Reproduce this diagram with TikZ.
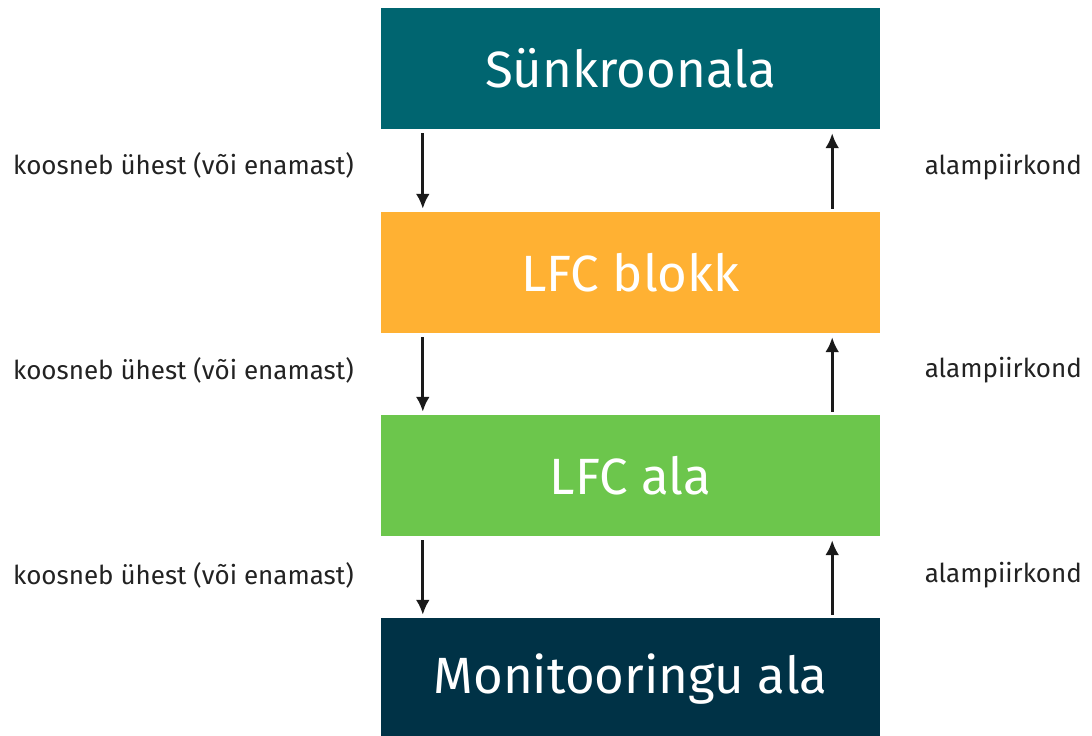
\documentclass[tikz,border=0pt]{standalone}
\usepackage{fontspec}
\setmainfont{Fira Sans}
\usetikzlibrary{arrows.meta}
\definecolor{cteal}{HTML}{006570}
\definecolor{corange}{HTML}{FFB133}
\definecolor{cgreen}{HTML}{6CC64C}
\definecolor{cnavy}{HTML}{003246}
\definecolor{clabel}{HTML}{222222}
\definecolor{carrow}{HTML}{1A1A1A}
\tikzset{
  blockbox/.style={rectangle, minimum width=499pt, minimum height=121pt, inner sep=0pt, text=white, font=\fontsize{51}{60}\selectfont},
  sidelabel/.style={inner sep=0pt, text=clabel, font=\fontsize{26}{30}\selectfont},
  arr/.style={draw=carrow, line width=3pt, -{Latex[length=15pt,width=14pt]}}
}
\begin{document}
\begin{tikzpicture}[x=1pt,y=-1pt]
\useasboundingbox (0,0) rectangle (1092,736);
\node[blockbox, fill=cteal] (b1) at (630.5,68.5) {Sünkroonala};
\node[blockbox, fill=corange] (b2) at (630.5,272.5) {LFC blokk};
\node[blockbox, fill=cgreen] (b3) at (630.5,475.5) {LFC ala};
\node[blockbox, fill=cnavy, minimum height=122pt] (b4) at (630.5,679) {Monitooringu ala};
\foreach \u/\l in {b1/b2, b2/b3, b3/b4}{
  \draw[arr] ([xshift=42pt,yshift=-4pt]\u.south west) -- ([xshift=42pt,yshift=3pt]\l.north west);
  \draw[arr] ([xshift=-48pt,yshift=3pt]\l.north east) -- ([xshift=-48pt,yshift=-4pt]\u.south east);
}
\node[sidelabel, anchor=west] (l1) at (13,165) {koosneb ühest (või enamast)};
\node[sidelabel, anchor=west] (l2) at (13,370) {koosneb ühest (või enamast)};
\node[sidelabel, anchor=west] (l3) at (13,575) {koosneb ühest (või enamast)};
\node[sidelabel, anchor=east] (r1) at (1082,167) {alampiirkond};
\node[sidelabel, anchor=east] (r2) at (1082,370) {alampiirkond};
\node[sidelabel, anchor=east] (r3) at (1082,575) {alampiirkond};
\end{tikzpicture}
\end{document}
